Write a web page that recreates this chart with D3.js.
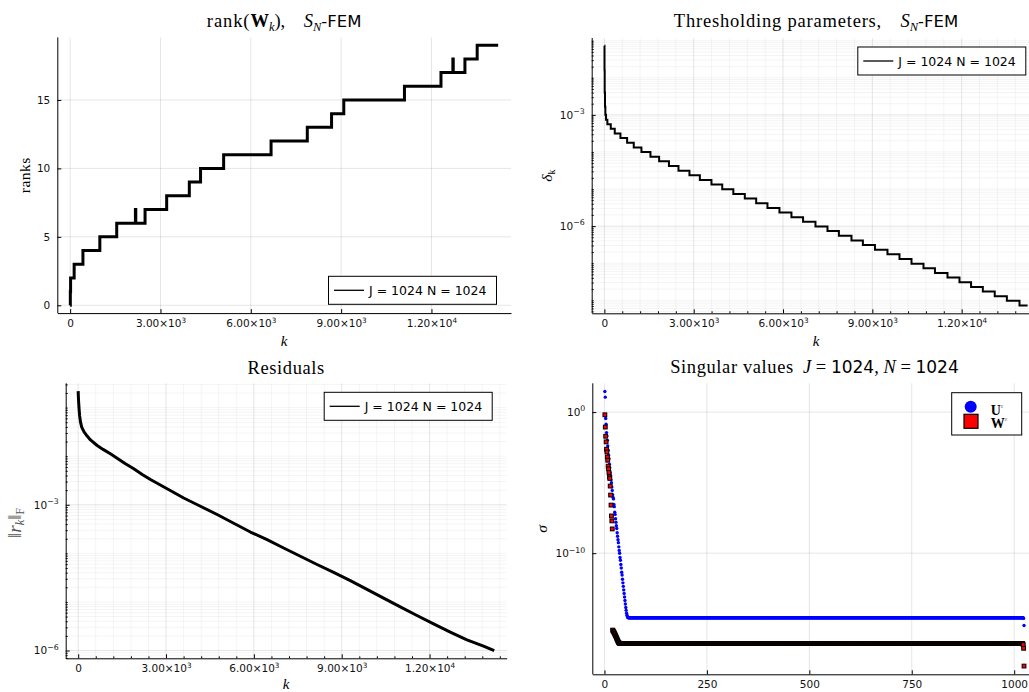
<!DOCTYPE html>
<html>
<head>
<meta charset="utf-8">
<script src="https://cdn.jsdelivr.net/npm/d3@7"></script>
<style>
  body { margin: 0; background: #fff; }
  svg { display: block; }
</style>
</head>
<body>
<svg id="fig" width="1029" height="692"></svg>
<script>
// ---------------- data ----------------
// rank of W_k versus iteration k
const rankK   = [0, 6, 15, 133, 425, 986, 1547, 2168, 2180, 2488, 3206, 3958, 4331, 5098, 6673, 7876, 8682, 9088, 11103, 12316, 12711, 12723, 13111, 13518, 14215];
const rankVal = [0, 1, 2, 3, 4, 5, 6, 7, 6, 7, 8, 9, 10, 11, 12, 13, 14, 15, 16, 17, 18, 17, 18, 19, 19];

// thresholding parameter delta_k (piecewise constant)
const deltaK   = [0, 4, 10, 20, 32, 55, 100, 214, 348, 539, 763, 986, 1244, 1547, 1838, 2168, 2488, 2857, 3206, 3596, 3958, 4331, 4716, 5098, 5477, 5880, 6283, 6673, 7090, 7493, 7876, 8299, 8682, 9088, 9508, 9912, 10315, 10718, 11103, 11524, 11927, 12316, 12711, 13111, 13518, 13943, 14215];
const deltaVal = [7.3e-2, 1.6e-2, 4.0e-3, 1.66e-3, 1.0e-3, 7.35e-4, 5.61e-4, 4.21e-4, 3.15e-4, 2.36e-4, 1.77e-4, 1.32e-4, 9.91e-5, 7.43e-5, 5.57e-5, 4.17e-5, 3.13e-5, 2.34e-5, 1.75e-5, 1.32e-5, 9.84e-6, 7.38e-6, 5.52e-6, 4.14e-6, 3.10e-6, 2.32e-6, 1.74e-6, 1.30e-6, 9.77e-7, 7.33e-7, 5.48e-7, 4.11e-7, 3.08e-7, 2.31e-7, 1.73e-7, 1.29e-7, 9.70e-8, 7.26e-8, 5.45e-8, 4.08e-8, 3.05e-8, 2.29e-8, 1.71e-8, 1.29e-8, 9.63e-9, 7.21e-9, 7.21e-9];

// residual norm ||r_k||_F
const resK   = [0, 5, 15, 30, 50, 80, 120, 200, 300, 420, 648, 850, 1100, 1331, 1600, 1898, 2200, 2468, 3037, 3604, 4174, 4744, 5311, 5881, 6451, 7017, 7587, 8157, 8724, 9294, 9863, 10430, 11000, 11570, 12137, 12707, 13276, 13843, 14208];
const resVal = [0.219, 0.178, 0.132, 0.0955, 0.0676, 0.0501, 0.0398, 0.0316, 0.0263, 0.0216, 0.0166, 0.0138, 0.0112, 9.12e-3, 7.08e-3, 5.50e-3, 4.17e-3, 3.31e-3, 2.14e-3, 1.38e-3, 9.33e-4, 6.31e-4, 4.17e-4, 2.75e-4, 1.91e-4, 1.29e-4, 8.71e-5, 5.89e-5, 4.07e-5, 2.75e-5, 1.82e-5, 1.20e-5, 7.94e-6, 5.25e-6, 3.55e-6, 2.40e-6, 1.66e-6, 1.23e-6, 1.00e-6];

// singular values of U^eps (index 1..58, then a flat floor, then the last two)
const uHead = [28.8, 11.5, 0.355, 0.141, 0.0355, 0.0200, 0.0100, 3.98e-3, 2.00e-3, 8.91e-4, 5.01e-4, 2.00e-4, 1.12e-4, 5.01e-5, 3.16e-5, 1.58e-5, 1.00e-5, 5.01e-6, 2.82e-6, 1.41e-6, 8.91e-7, 7.08e-7, 2.82e-7, 2.00e-7, 7.94e-8, 5.62e-8, 2.82e-8, 1.58e-8, 8.91e-9, 5.62e-9, 2.82e-9, 1.58e-9, 8.91e-10, 5.62e-10, 2.82e-10, 1.58e-10, 1.00e-10, 5.01e-11, 3.16e-11, 1.58e-11, 8.91e-12, 4.47e-12, 2.82e-12, 1.41e-12, 7.94e-13, 4.47e-13, 2.51e-13, 1.41e-13, 7.94e-14, 4.47e-14, 2.51e-14, 1.41e-14, 8.91e-15, 5.62e-15, 3.98e-15, 3.16e-15, 2.82e-15, 2.63e-15];
const uFloor = 2.63e-15;
const uFloorEnd = 1022;
const uTail = [2.40e-15, 7.59e-16];

// singular values of W^eps (index 1..37, then a flat floor, then the last four)
const wHead = [0.646, 0.0871, 0.0195, 7.76e-3, 2.34e-3, 1.51e-3, 6.61e-4, 3.89e-4, 1.48e-4, 9.55e-5, 5.25e-5, 2.57e-5, 2.00e-5, 5.75e-6, 1.32e-6, 2.57e-7, 4.37e-8, 1.95e-8, 5.25e-9, 3.55e-16, 3.16e-16, 2.82e-16, 2.51e-16, 2.19e-16, 1.91e-16, 1.66e-16, 1.45e-16, 1.26e-16, 1.07e-16, 9.12e-17, 7.76e-17, 6.61e-17, 5.75e-17, 5.01e-17, 4.57e-17, 4.27e-17, 4.07e-17];
const wFloor = 4.0e-17;
const wFloorEnd = 1020;
const wTail = [3.72e-17, 3.31e-17, 1.82e-17, 1.0e-18];

// ticks and labels
const kTicks = [0, 3000, 6000, 9000, 12000];
const kMinorStep = 600;
const rankTicks = [0, 5, 10, 15];
const deltaTicks = [1e-3, 1e-6];
const resTicks = [1e-3, 1e-6];
const sigmaTicks = [1e0, 1e-10];
const indexTicks = [0, 250, 500, 750, 1000];
const runLabel = "J = 1024 N = 1024";

// ---------------- helpers ----------------
const SANS = "DejaVu Sans";
const SERIF = "Liberation Serif";
const TICK_FS = 10.5;
const svg = d3.select("#fig");
svg.append("rect").attr("width", 1029).attr("height", 692).attr("fill", "#fff");

const padLin = ([a, b]) => { const p = (b - a) * 0.03; return [a - p, b + p]; };
const padLog = ([a, b]) => {
  const la = Math.log10(a), lb = Math.log10(b), p = (lb - la) * 0.03;
  return [10 ** (la - p), 10 ** (lb + p)];
};

function expand(head, floor, floorEnd, tail) {
  const out = head.map((v, i) => ({ i: i + 1, v }));
  for (let i = head.length + 1; i <= floorEnd; i++) out.push({ i, v: floor });
  tail.forEach((v, j) => out.push({ i: floorEnd + 1 + j, v }));
  return out;
}

function logMinor(scale, majors) {
  const [a, b] = scale.domain();
  const out = [];
  for (let e = Math.floor(Math.log10(a)); e <= Math.ceil(Math.log10(b)); e++) {
    for (let m = 1; m <= 9; m++) {
      const v = m * 10 ** e;
      if (v >= a && v <= b && !majors.some(t => Math.abs(Math.log10(t) - Math.log10(v)) < 1e-9)) out.push(v);
    }
  }
  return out;
}

function linMinor(scale, step, majors) {
  const [a, b] = scale.domain();
  const out = [];
  for (let v = Math.ceil(a / step) * step; v <= b; v += step) {
    if (!majors.includes(v)) out.push(v);
  }
  return out;
}

function sciLabel(d) {
  const t = d3.select(this).text(null);
  if (d === 0) { t.text("0"); return; }
  const e = Math.floor(Math.log10(d) + 1e-9), m = d / 10 ** e;
  t.append("tspan").text(m.toFixed(2) + "\u00d710");
  t.append("tspan").attr("dy", -4).attr("font-size", 7.3).text(e);
}

function powLabel(d) {
  const t = d3.select(this).text(null);
  const e = Math.round(Math.log10(d));
  t.append("tspan").text("10");
  t.append("tspan").attr("dy", -4.5).attr("font-size", 7.8).text(e < 0 ? "\u2212" + (-e) : String(e));
}

function styleAxis(g) {
  g.attr("font-family", SANS).attr("font-size", TICK_FS);
  g.select(".domain").attr("stroke", "#000").attr("stroke-width", 1);
  g.selectAll(".tick line").attr("stroke", "#000").attr("stroke-width", 1);
  g.selectAll(".tick text").attr("fill", "#111");
}

function frame(box, x, y, cfg) {
  const g = svg.append("g");
  const grid = g.append("g").attr("stroke", "#000").attr("stroke-width", 1);
  (cfg.xMinor || []).forEach(v => grid.append("line")
    .attr("x1", x(v)).attr("x2", x(v)).attr("y1", box.y0).attr("y2", box.y1).attr("stroke-opacity", 0.045));
  (cfg.yMinor || []).forEach(v => grid.append("line")
    .attr("x1", box.x0).attr("x2", box.x1).attr("y1", y(v)).attr("y2", y(v)).attr("stroke-opacity", 0.045));
  cfg.xTicks.forEach(v => grid.append("line")
    .attr("x1", x(v)).attr("x2", x(v)).attr("y1", box.y0).attr("y2", box.y1).attr("stroke-opacity", 0.1));
  cfg.yTicks.forEach(v => grid.append("line")
    .attr("x1", box.x0).attr("x2", box.x1).attr("y1", y(v)).attr("y2", y(v)).attr("stroke-opacity", 0.1));

  if (cfg.xMinor) {
    g.append("g").attr("transform", `translate(0,${box.y1})`)
      .call(d3.axisBottom(x).tickValues(cfg.xMinor).tickSizeInner(-2).tickSizeOuter(0).tickFormat(() => ""))
      .call(s => { s.select(".domain").remove(); s.selectAll(".tick line").attr("stroke", "#000"); });
  }
  if (cfg.yMinor) {
    g.append("g").attr("transform", `translate(${box.x0},0)`)
      .call(d3.axisLeft(y).tickValues(cfg.yMinor).tickSizeInner(-2).tickSizeOuter(0).tickFormat(() => ""))
      .call(s => { s.select(".domain").remove(); s.selectAll(".tick line").attr("stroke", "#000"); });
  }

  const xa = g.append("g").attr("transform", `translate(0,${box.y1})`)
    .call(d3.axisBottom(x).tickValues(cfg.xTicks).tickSizeInner(-4).tickSizeOuter(0).tickPadding(6)
      .tickFormat(d3.format("d")));
  styleAxis(xa);
  if (cfg.xFmt) xa.selectAll(".tick text").each(cfg.xFmt);

  const ya = g.append("g").attr("transform", `translate(${box.x0},0)`)
    .call(d3.axisLeft(y).tickValues(cfg.yTicks).tickSizeInner(-4).tickSizeOuter(0).tickPadding(7)
      .tickFormat(d3.format("d")));
  styleAxis(ya);
  if (cfg.yFmt) ya.selectAll(".tick text").each(cfg.yFmt);
  // the y axis spans the full panel height
  ya.select(".domain").attr("d", `M0.5,${y.range()[0]}V${y.range()[1]}`);
  return g;
}

function rich(parent, x, y, parts, opts = {}) {
  const holder = parent.append("g").attr("transform", `translate(${x},${y})${opts.rotate ? " rotate(-90)" : ""}`);
  const t = holder.append("text").attr("text-anchor", opts.anchor || "middle").attr("fill", opts.fill || "#000");
  parts.forEach(p => {
    const s = t.append("tspan").text(p.t)
      .attr("font-family", p.f || SERIF).attr("font-size", p.s || 18.5);
    if (p.i) s.attr("font-style", "italic");
    if (p.b) s.attr("font-weight", "bold");
    if (p.dy) s.attr("dy", p.dy);
    if (p.ls) s.attr("letter-spacing", p.ls);
    if (p.fill) s.attr("fill", p.fill);
  });
  return t;
}

function lineLegend(box, label, corner) {
  const w = 168, h = 28;
  const x1 = box.x1 - 14.5, x0 = x1 - w;
  const y0 = corner === "bottom" ? box.y1 - 8.8 - h : box.y0 + 9;
  const g = svg.append("g");
  g.append("rect").attr("x", x0).attr("y", y0).attr("width", w).attr("height", h)
    .attr("fill", "#fff").attr("stroke", "#000").attr("stroke-width", 1);
  g.append("line").attr("x1", x0 + 5.5).attr("x2", x0 + 35.5).attr("y1", y0 + h / 2).attr("y2", y0 + h / 2)
    .attr("stroke", "#000").attr("stroke-width", 1.3);
  g.append("text").attr("x", x0 + 40.5).attr("y", y0 + h / 2 + 4.6)
    .attr("font-family", SANS).attr("font-size", 12.5).attr("fill", "#000").text(label);
}

const NB = "\u00a0";

// ---------------- panel 1: ranks ----------------
const box1 = { x0: 57.3, y0: 37.4, x1: 511, y1: 313.1 };
const x1s = d3.scaleLinear().domain(padLin(d3.extent(rankK))).range([box1.x0, box1.x1]);
const y1s = d3.scaleLinear().domain(padLin(d3.extent(rankVal))).range([box1.y1, box1.y0]);
frame(box1, x1s, y1s, { xTicks: kTicks, yTicks: rankTicks, xFmt: sciLabel });
svg.append("path")
  .datum(rankK.map((k, i) => [k, rankVal[i]]))
  .attr("d", d3.line().x(d => x1s(d[0])).y(d => y1s(d[1])).curve(d3.curveStepAfter))
  .attr("fill", "none").attr("stroke", "#000").attr("stroke-width", 3);
lineLegend(box1, runLabel, "bottom");
rich(svg, (box1.x0 + box1.x1) / 2, 26.7, [
  { t: "rank(", ls: 0.9 }, { t: "W", b: 1 }, { t: "k", i: 1, s: 12.5, dy: 4 }, { t: "),", dy: -4 },
  { t: NB + NB + NB + NB }, { t: "S", i: 1 }, { t: "N", i: 1, s: 12.5, dy: 4 },
  { t: "-FEM", f: SANS, s: 16.5, dy: -4 }
]);
rich(svg, 30, (box1.y0 + box1.y1) / 2, [{ t: "ranks", s: 15.5, ls: 0.5 }], { rotate: true });
rich(svg, (box1.x0 + box1.x1) / 2, 345.5, [{ t: "k", i: 1, s: 15 }]);

// ---------------- panel 2: thresholding parameters ----------------
const box2 = { x0: 591.7, y0: 38, x1: 1040.3, y1: 313.3 };
const x2s = d3.scaleLinear().domain(padLin(d3.extent(deltaK))).range([box2.x0, box2.x1]);
const y2s = d3.scaleLog().domain(padLog(d3.extent(deltaVal))).range([box2.y1, box2.y0]);
frame(box2, x2s, y2s, {
  xTicks: kTicks, yTicks: deltaTicks, xFmt: sciLabel, yFmt: powLabel,
  xMinor: linMinor(x2s, kMinorStep, kTicks), yMinor: logMinor(y2s, deltaTicks)
});
svg.append("path")
  .datum(deltaK.map((k, i) => [k, deltaVal[i]]))
  .attr("d", d3.line().x(d => x2s(d[0])).y(d => y2s(d[1])).curve(d3.curveStepAfter))
  .attr("fill", "none").attr("stroke", "#000").attr("stroke-width", 2);
lineLegend(box2, runLabel, "top");
rich(svg, (box2.x0 + box2.x1) / 2, 26.7, [
  { t: "Thresholding parameters,", ls: 0.8 }, { t: NB + NB + NB + NB },
  { t: "S", i: 1 }, { t: "N", i: 1, s: 12.5, dy: 4 }, { t: "-FEM", f: SANS, s: 16.5, dy: -4 }
]);
rich(svg, 552, (box2.y0 + box2.y1) / 2, [{ t: "\u03b4", i: 1, s: 15.5 }, { t: "k", s: 10, dy: 3 }], { rotate: true });
rich(svg, 816, 345.5, [{ t: "k", i: 1, s: 15 }]);

// ---------------- panel 3: residuals ----------------
const box3 = { x0: 65.7, y0: 383.3, x1: 506.7, y1: 658.3 };
const x3s = d3.scaleLinear().domain(padLin(d3.extent(resK))).range([box3.x0, box3.x1]);
const y3s = d3.scaleLog().domain(padLog(d3.extent(resVal))).range([box3.y1, box3.y0]);
frame(box3, x3s, y3s, {
  xTicks: kTicks, yTicks: resTicks, xFmt: sciLabel, yFmt: powLabel,
  xMinor: linMinor(x3s, kMinorStep, kTicks), yMinor: logMinor(y3s, resTicks)
});
svg.append("path")
  .datum(resK.map((k, i) => [k, resVal[i]]))
  .attr("d", d3.line().x(d => x3s(d[0])).y(d => y3s(d[1])))
  .attr("fill", "none").attr("stroke", "#000").attr("stroke-width", 3).attr("stroke-linejoin", "round");
lineLegend(box3, runLabel, "top");
rich(svg, (box3.x0 + box3.x1) / 2, 374.3, [{ t: "Residuals", ls: 0.6 }]);
rich(svg, 21, 523, [
  { t: "\u2016", s: 19 }, { t: "r", i: 1, s: 19 }, { t: "k", i: 1, s: 12.5, dy: 3 },
  { t: "\u2016", s: 19, dy: -3 }, { t: "F", s: 11.5, dy: 3 }
], { rotate: true, fill: "#555" });
rich(svg, (box3.x0 + box3.x1) / 2, 688.5, [{ t: "k", i: 1, s: 15 }]);

// ---------------- panel 4: singular values ----------------
const uSeries = expand(uHead, uFloor, uFloorEnd, uTail);
const wSeries = expand(wHead, wFloor, wFloorEnd, wTail);
const box4 = { x0: 592.3, y0: 383.3, x1: 1036.6, y1: 674.3 };
const x4s = d3.scaleLinear().domain(padLin([1, d3.max(uSeries, d => d.i)])).range([box4.x0, box4.x1]);
const y4s = d3.scaleLog()
  .domain(padLog([d3.min(wSeries, d => d.v), d3.max(uSeries, d => d.v)]))
  .range([box4.y1, box4.y0]);
frame(box4, x4s, y4s, { xTicks: indexTicks, yTicks: sigmaTicks, yFmt: powLabel });
svg.append("g").selectAll("circle").data(uSeries).join("circle")
  .attr("cx", d => x4s(d.i)).attr("cy", d => y4s(d.v)).attr("r", 1.7)
  .attr("fill", "#0000ff");
svg.append("g").selectAll("rect").data(wSeries).join("rect")
  .attr("x", d => x4s(d.i) - 1.9).attr("y", d => y4s(d.v) - 1.9)
  .attr("width", 3.8).attr("height", 3.8)
  .attr("fill", "#ff0000").attr("stroke", "#000").attr("stroke-width", 1);
{
  const lx1 = box4.x1 - 14.9, lx0 = lx1 - 70, ly0 = box4.y0 + 9.4;
  const lg = svg.append("g");
  lg.append("rect").attr("x", lx0).attr("y", ly0).attr("width", 70).attr("height", 42.3)
    .attr("fill", "#fff").attr("stroke", "#000").attr("stroke-width", 1);
  lg.append("circle").attr("cx", lx0 + 19).attr("cy", ly0 + 14).attr("r", 6).attr("fill", "#0000ff");
  lg.append("rect").attr("x", lx0 + 12.3).attr("y", ly0 + 21.6).attr("width", 14).attr("height", 14)
    .attr("fill", "#ff0000").attr("stroke", "#000").attr("stroke-width", 1.2);
  rich(lg, lx0 + 39, ly0 + 21.8, [{ t: "U", b: 1, s: 14 }, { t: "\u03b5", s: 6.5, dy: -7, fill: "#777" }], { anchor: "start" });
  rich(lg, lx0 + 39, ly0 + 35.2, [{ t: "W", b: 1, s: 14 }, { t: "\u03b5", s: 6.5, dy: -7, fill: "#777" }], { anchor: "start" });
}
rich(svg, (box4.x0 + box4.x1) / 2, 373.3, [
  { t: "Singular values", ls: 0.6 }, { t: NB + NB }, { t: "J", i: 1 }, { t: NB + "=" + NB },
  { t: "1024", f: SANS, s: 17 }, { t: "," + NB }, { t: "N", i: 1 }, { t: NB + "=" + NB },
  { t: "1024", f: SANS, s: 17 }
]);
rich(svg, 546.5, (box4.y0 + box4.y1) / 2, [{ t: "\u03c3", i: 1, s: 15.5 }], { rotate: true });
</script>
</body>
</html>
